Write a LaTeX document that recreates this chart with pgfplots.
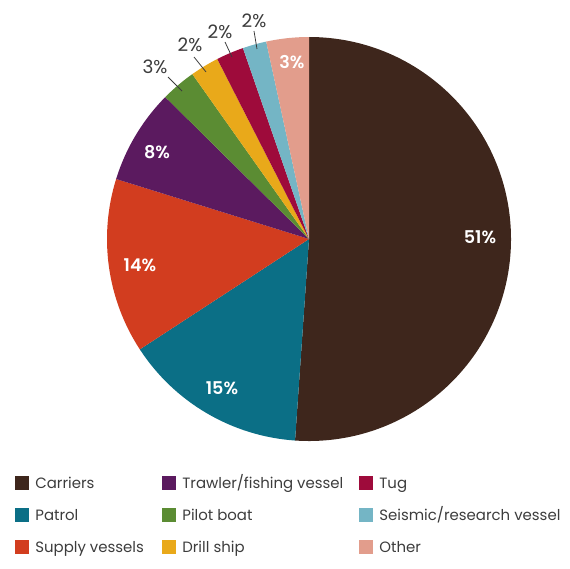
\documentclass[border=0pt]{standalone}
\usepackage{pgfplots}
\pgfplotsset{compat=1.18}
\usepackage{pgfplotstable}
\usepackage{fontspec}
\setmainfont{Poppins}
\newfontfamily\boldfont{Poppins SemiBold}

\definecolor{carr}{HTML}{3E261C}
\definecolor{patrol}{HTML}{0B6F86}
\definecolor{supply}{HTML}{D23D1F}
\definecolor{trawler}{HTML}{5B1A5F}
\definecolor{pilot}{HTML}{5B8C33}
\definecolor{drill}{HTML}{E9A91A}
\definecolor{tug}{HTML}{9E0B3B}
\definecolor{seismic}{HTML}{74B5C5}
\definecolor{other}{HTML}{E29D8C}
\definecolor{txt}{HTML}{3C3C3C}

% share of vessels, clockwise from 12 o'clock
\pgfplotstableread{
value col
51.1  carr
14.7  patrol
14.0  supply
7.6   trawler
2.8   pilot
2.3   drill
2.2   tug
1.9   seismic
3.4   other
}\piedata

\begin{document}
\begin{tikzpicture}
\begin{axis}[
    scale only axis,
    width=11.4cm, height=11.36cm,
    xmin=0, xmax=570, ymin=0, ymax=568,
    hide axis,
    clip=false,
]
\addplot[draw=none] coordinates {(0,0) (570,568)};

\def\cum{0}
\pgfplotsforeachungrouped \i in {0,...,8}{
    \pgfplotstablegetelem{\i}{value}\of\piedata \let\pval\pgfplotsretval
    \pgfplotstablegetelem{\i}{col}\of\piedata \let\pcol\pgfplotsretval
    \pgfmathsetmacro\sa{90-3.6*\cum}
    \pgfmathsetmacro\ea{90-3.6*(\cum+\pval)}
    \edef\temp{\noexpand\fill[\pcol] (axis cs:309,329) -- ++(\sa:4.04cm)
        arc[start angle=\sa, end angle=\ea, radius=4.04cm] -- cycle;}
    \temp
    \pgfmathsetmacro\cum{\cum+\pval}
}

% labels inside slices
\begin{scope}[every node/.style={text=white, font=\boldfont\fontsize{10}{12}\selectfont}]
\node at (axis cs:480,331) {51\%};
\node at (axis cs:222,180) {15\%};
\node at (axis cs:140,303) {14\%};
\node at (axis cs:157,416) {8\%};
\node at (axis cs:292,506) {3\%};
\end{scope}

% labels outside with leaders
\begin{scope}[every node/.style={text=txt, font=\fontsize{10.5}{12}\selectfont}]
\node at (axis cs:155,501) {3\%};
\node at (axis cs:190,523) {2\%};
\node at (axis cs:220,536) {2\%};
\node at (axis cs:254,547) {2\%};
\end{scope}
\draw[txt, line width=0.45pt] (axis cs:168,491) -- (axis cs:182,477);
\draw[txt, line width=0.45pt] (axis cs:194,511) -- (axis cs:206,496);
\draw[txt, line width=0.45pt] (axis cs:225,526) -- (axis cs:232,511);
\draw[txt, line width=0.45pt] (axis cs:254,537) -- (axis cs:257,519);

% legend
\begin{scope}[every node/.style={text=txt, anchor=base west, inner sep=0pt, font=\fontsize{8.5}{10}\selectfont}]
\fill[carr]    (axis cs:15,78) rectangle (axis cs:29,92);
\node at (axis cs:35,79.5) {Carriers};
\fill[patrol]  (axis cs:15,46) rectangle (axis cs:29,60);
\node at (axis cs:35,47.5) {Patrol};
\fill[supply]  (axis cs:15,14) rectangle (axis cs:29,28);
\node at (axis cs:35,15.5) {Supply vessels};
\fill[trawler] (axis cs:162,78) rectangle (axis cs:176,92);
\node at (axis cs:182,79.5) {Trawler/fishing vessel};
\fill[pilot]   (axis cs:162,46) rectangle (axis cs:176,60);
\node at (axis cs:182,47.5) {Pilot boat};
\fill[drill]   (axis cs:162,14) rectangle (axis cs:176,28);
\node at (axis cs:182,15.5) {Drill ship};
\fill[tug]     (axis cs:359,78) rectangle (axis cs:373,92);
\node at (axis cs:379,79.5) {Tug};
\fill[seismic] (axis cs:359,46) rectangle (axis cs:373,60);
\node at (axis cs:379,47.5) {Seismic/research vessel};
\fill[other]   (axis cs:359,14) rectangle (axis cs:373,28);
\node at (axis cs:379,15.5) {Other};
\end{scope}
\end{axis}
\end{tikzpicture}
\end{document}
